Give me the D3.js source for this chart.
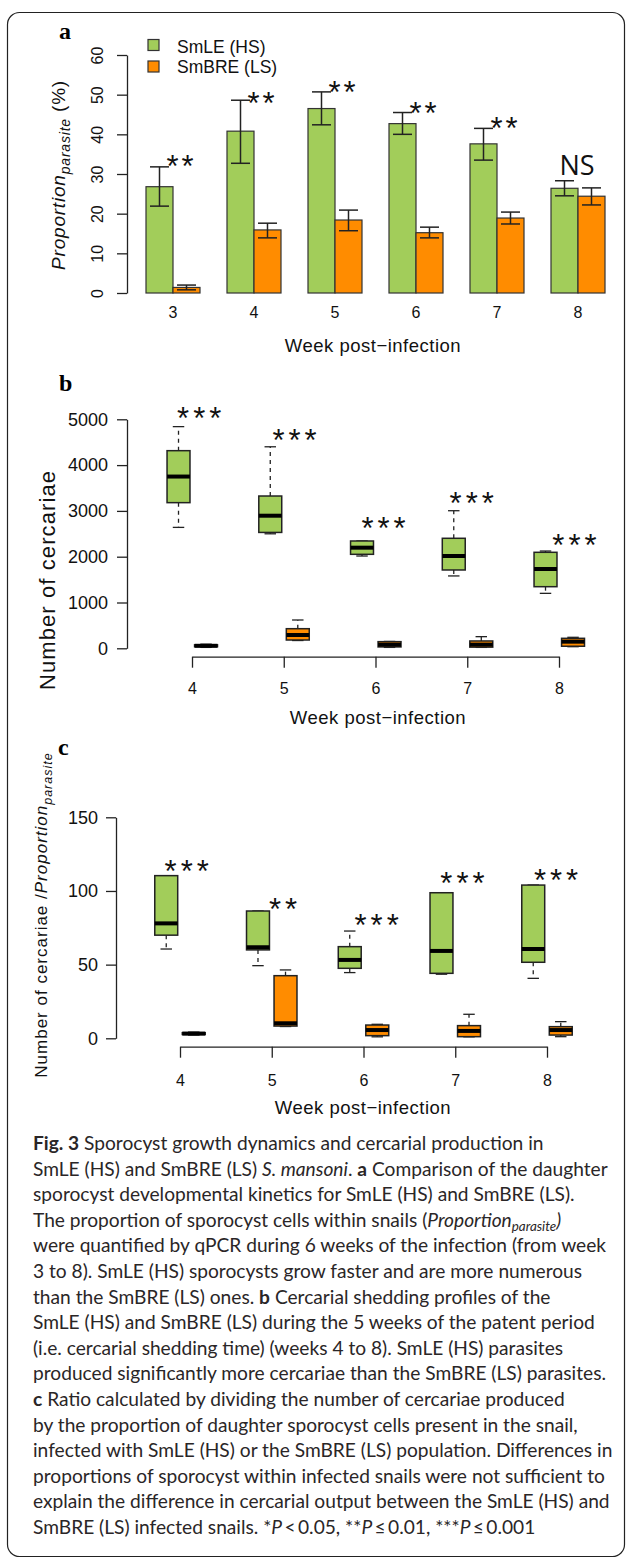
<!DOCTYPE html>
<html>
<head>
<meta charset="utf-8">
<script src="https://cdn.jsdelivr.net/npm/d3@7"></script>
<style>
  body { margin: 0; background: #fff; overflow: hidden; }
  svg { display: block; font-family: "Liberation Sans", Arial, Helvetica, sans-serif; }
</style>
</head>
<body>
<div id="chart"></div>
<script>
////////////////////////////////////////////////////////////////////
////////////////////////////  Data  ////////////////////////////////
const seriesNames = ["SmLE (HS)", "SmBRE (LS)"];

// panel a : proportion of parasite (%), mean and error bar ends
const weeksA = [3, 4, 5, 6, 7, 8];
const smleMean = [26.8, 40.8, 46.5, 42.7, 37.6, 26.4];
const smleLo = [21.9, 32.7, 42.4, 40.0, 33.5, 24.5];
const smleHi = [31.8, 48.6, 50.7, 45.5, 41.5, 28.3];
const smbreMean = [1.4, 15.9, 18.4, 15.2, 18.9, 24.4];
const smbreLo = [0.8, 13.9, 15.7, 13.9, 17.4, 22.2];
const smbreHi = [2.0, 17.6, 20.9, 16.6, 20.4, 26.5];
const sigA = ["**", "**", "**", "**", "**", "NS"];
const sigAy = [33.5, 49.4, 52.1, 46.9, 43.1, 32.2];

// panel b : number of cercariae, [min, q1, median, q3, max]
const weeksB = [4, 5, 6, 7, 8];
const smleB = [
  [2640, 3180, 3750, 4315, 4840],
  [2500, 2530, 2895, 3325, 4400],
  [2015, 2052, 2197, 2343, 2343],
  [1580, 1710, 2015, 2402, 3004],
  [1200, 1345, 1731, 2096, 2124]
];
const smbreB = [
  [20, 35, 55, 75, 90],
  [170, 181, 290, 428, 618],
  [20, 30, 80, 145, 150],
  [20, 25, 80, 160, 254],
  [35, 45, 145, 218, 240]
];
const sigB = ["***", "***", "***", "***", "***"];
const sigBx = [4.10, 5.14, 6.11, 7.07, 8.19];
const sigBy = [5166, 4679, 2764, 3303, 2386];

// panel c : cercariae / proportion parasite
const weeksC = [4, 5, 6, 7, 8];
const smleC = [
  [60.6, 70, 78, 110.4, 110.4],
  [49.3, 60, 61.8, 86.4, 86.4],
  [44.6, 47.5, 53.2, 62.2, 72.8],
  [43.5, 44.1, 59.3, 98.8, 98.8],
  [40.7, 51.6, 60.6, 104, 104]
];
const smbreC = [
  [2.2, 2.6, 3.2, 3.8, 4.2],
  [8, 8.3, 10.2, 42.5, 46.4],
  [1, 1.8, 5.6, 9, 9.5],
  [1, 1.1, 5, 8.6, 16.3],
  [1.1, 2.2, 5.6, 7.9, 11.3]
];
const sigC = ["***", "**", "***", "***", "***"];
const sigCx = [4.095, 5.145, 6.165, 7.10, 8.12];
const sigCy = [117.6, 91.6, 80.8, 109.7, 111.3];

// caption lines : [text, style] ("" normal, b bold, i italic, s subscript)
const caption = [
  [["Fig. 3", "b"], ["  Sporocyst growth dynamics and cercarial production in", ""]],
  [["SmLE (HS) and SmBRE (LS) ", ""], ["S. mansoni", "i"], [". ", ""], ["a", "b"], [" Comparison of the daughter", ""]],
  [["sporocyst developmental kinetics for SmLE (HS) and SmBRE (LS).", ""]],
  [["The proportion of sporocyst cells within snails (", ""], ["Proportion", "i"], ["parasite", "s"], [")", "i"]],
  [["were quantified by qPCR during 6 weeks of the infection (from week", ""]],
  [["3 to 8). SmLE (HS) sporocysts grow faster and are more numerous", ""]],
  [["than the SmBRE (LS) ones. ", ""], ["b", "b"], [" Cercarial shedding profiles of the", ""]],
  [["SmLE (HS) and SmBRE (LS) during the 5 weeks of the patent period", ""]],
  [["(i.e. cercarial shedding time) (weeks 4 to 8). SmLE (HS) parasites", ""]],
  [["produced significantly more cercariae than the SmBRE (LS) parasites.", ""]],
  [["c", "b"], [" Ratio calculated by dividing the number of cercariae produced", ""]],
  [["by the proportion of daughter sporocyst cells present in the snail,", ""]],
  [["infected with SmLE (HS) or the SmBRE (LS) population. Differences in", ""]],
  [["proportions of sporocyst within infected snails were not sufficient to", ""]],
  [["explain the difference in cercarial output between the SmLE (HS) and", ""]],
  [["SmBRE (LS) infected snails. *", ""], ["P", "i"], ["\u2009<\u20090.05, **", ""], ["P", "i"], ["\u2009\u2264\u20090.01, ***", ""], ["P", "i"], ["\u2009\u2264\u20090.001", ""]]
];

////////////////////////////////////////////////////////////////////
////////////////////////////  Init  ////////////////////////////////
const W = 627, H = 1558;
const GREEN = "#a2cd5a", ORANGE = "#ff8c00", INK = "#222";
const FONT = '"Liberation Sans", Arial, Helvetica, sans-serif';

const svg = d3.select("#chart").append("svg").attr("width", W).attr("height", H);
svg.append("rect").attr("width", W).attr("height", H).attr("fill", "#fff");
// rounded frame
svg.append("rect")
  .attr("x", 7.5).attr("y", 12.5).attr("width", 617).attr("height", 1544)
  .attr("rx", 12).attr("fill", "none").attr("stroke", INK).attr("stroke-width", 1.2);

function styleAxis(g, size) {
  g.attr("font-family", FONT).attr("font-size", size);
  g.select(".domain").attr("stroke", INK).attr("stroke-width", 1.3);
  g.selectAll(".tick line").attr("stroke", INK).attr("stroke-width", 1.3);
  g.selectAll(".tick text").attr("fill", "#111");
}

function panelLabel(txt, x, y) {
  svg.append("text").attr("x", x).attr("y", y)
    .attr("font-family", '"Liberation Serif", "Times New Roman", serif')
    .attr("font-weight", "bold").attr("font-size", 24).text(txt);
}

function xTitle(cx, y) {
  svg.append("text").attr("x", cx).attr("y", y).attr("text-anchor", "middle")
    .attr("font-size", 18.5).attr("letter-spacing", 0.5).attr("fill", "#111")
    .text("Week post\u2212infection");
}

function stars(g, txt, x, y, ls) {
  g.append("text").attr("x", x).attr("y", y + 17)
    .attr("text-anchor", "middle").attr("font-size", 31)
    .attr("letter-spacing", ls).attr("fill", "#111").text(txt);
}

////////////////////////////////////////////////////////////////////
////////////////////////////  Panel a  /////////////////////////////
panelLabel("a", 59, 39);

const xa = d3.scaleBand().domain(weeksA).range([146, 605]).paddingInner(1 / 3).paddingOuter(0);
const xa2 = d3.scaleBand().domain(seriesNames).range([0, xa.bandwidth()]);
const ya = d3.scaleLinear().domain([0, 60]).range([293, 55]);

const rowsA = weeksA.map((w, i) => ({
  week: w,
  vals: [
    { s: seriesNames[0], m: smleMean[i], lo: smleLo[i], hi: smleHi[i], c: GREEN },
    { s: seriesNames[1], m: smbreMean[i], lo: smbreLo[i], hi: smbreHi[i], c: ORANGE }
  ]
}));

const gBars = svg.append("g");
const grp = gBars.selectAll("g").data(rowsA).join("g")
  .attr("transform", (d) => `translate(${xa(d.week)},0)`);
grp.selectAll("rect").data((d) => d.vals).join("rect")
  .attr("x", (d) => xa2(d.s)).attr("width", xa2.bandwidth())
  .attr("y", (d) => ya(d.m)).attr("height", (d) => ya(0) - ya(d.m))
  .attr("fill", (d) => d.c).attr("stroke", "#333").attr("stroke-width", 1.2);
// error bars
const eb = grp.selectAll("g.eb").data((d) => d.vals).join("g").attr("class", "eb")
  .attr("stroke", INK).attr("stroke-width", 1.5);
const cx = (d) => xa2(d.s) + xa2.bandwidth() / 2;
eb.append("line").attr("x1", cx).attr("x2", cx).attr("y1", (d) => ya(d.lo)).attr("y2", (d) => ya(d.hi));
eb.append("line").attr("x1", (d) => cx(d) - 9.5).attr("x2", (d) => cx(d) + 9.5)
  .attr("y1", (d) => ya(d.hi)).attr("y2", (d) => ya(d.hi));
eb.append("line").attr("x1", (d) => cx(d) - 9.5).attr("x2", (d) => cx(d) + 9.5)
  .attr("y1", (d) => ya(d.lo)).attr("y2", (d) => ya(d.lo));

// significance
weeksA.forEach((w, i) => {
  const gx = xa(w) + xa.bandwidth() / 2;
  if (sigA[i] === "NS") {
    svg.append("text").attr("x", gx - 1).attr("y", ya(sigAy[i]) + 9.5)
      .attr("text-anchor", "middle").attr("font-family", '"Open Sans", sans-serif')
      .attr("font-size", 27).attr("fill", "#111").text("NS");
  } else {
    stars(svg, sigA[i], gx + 8.5, ya(sigAy[i]), 3);
  }
});

// axes
const gya = svg.append("g").attr("transform", "translate(127,0)")
  .call(d3.axisLeft(ya).tickValues(d3.range(0, 61, 10)).tickSize(10).tickSizeOuter(0));
styleAxis(gya, 16);
gya.selectAll(".tick text").attr("x", 0).attr("dy", "0.36em")
  .attr("text-anchor", "middle").attr("transform", "translate(-30,0) rotate(-90)");

const gxa = svg.append("g").attr("transform", "translate(0,293)")
  .call(d3.axisBottom(xa).tickSize(0));
styleAxis(gxa, 16);
gxa.select(".domain").remove();
gxa.selectAll(".tick text").attr("y", 25).attr("dy", 0);

xTitle(373, 352);

// y title
const yta = svg.append("text").attr("transform", "translate(65,175) rotate(-90)")
  .attr("text-anchor", "middle").attr("font-size", 19).attr("letter-spacing", 0.8).attr("fill", "#111");
yta.append("tspan").attr("font-style", "italic").text("Proportion");
yta.append("tspan").attr("font-style", "italic").attr("font-size", 14).attr("dy", 5).text("parasite");
yta.append("tspan").attr("dy", -5).text(" (%)");

// legend
seriesNames.forEach((s, i) => {
  svg.append("rect").attr("x", 148).attr("y", 39.5 + i * 21.5).attr("width", 11).attr("height", 11)
    .attr("fill", i === 0 ? GREEN : ORANGE).attr("stroke", "#333").attr("stroke-width", 1.2);
  svg.append("text").attr("x", 177).attr("y", 52.5 + i * 20.5).attr("font-size", 17.5)
    .attr("fill", "#111").text(s);
});

////////////////////////////////////////////////////////////////////
////////////////////////////  Boxplots  ////////////////////////////
function drawBoxes(x, y, weeks, stats, offset, fill) {
  const hw = x(4.125) - x(4);
  const g = svg.append("g");
  weeks.forEach((w, i) => {
    const [mn, q1, md, q3, mx] = stats[i];
    const c = x(w + offset);
    // whiskers
    g.append("line").attr("x1", c).attr("x2", c).attr("y1", y(q3)).attr("y2", y(mx))
      .attr("stroke", INK).attr("stroke-width", 1.3).attr("stroke-dasharray", "4,4");
    g.append("line").attr("x1", c).attr("x2", c).attr("y1", y(q1)).attr("y2", y(mn))
      .attr("stroke", INK).attr("stroke-width", 1.3).attr("stroke-dasharray", "4,4");
    [mn, mx].forEach((v) => {
      g.append("line").attr("x1", c - hw / 2).attr("x2", c + hw / 2).attr("y1", y(v)).attr("y2", y(v))
        .attr("stroke", INK).attr("stroke-width", 1.3);
    });
    g.append("rect").attr("x", c - hw).attr("width", 2 * hw)
      .attr("y", y(q3)).attr("height", Math.max(0.5, y(q1) - y(q3)))
      .attr("fill", fill).attr("stroke", INK).attr("stroke-width", 1.5);
    g.append("line").attr("x1", c - hw).attr("x2", c + hw).attr("y1", y(md)).attr("y2", y(md))
      .attr("stroke", "#000").attr("stroke-width", 4);
  });
}

////////////////////////////////////////////////////////////////////
////////////////////////////  Panel b  /////////////////////////////
panelLabel("b", 59, 391);

const xb = d3.scaleLinear().domain([4, 8]).range([192, 559]);
const yb = d3.scaleLinear().domain([0, 5000]).range([648.3, 419.3]);

drawBoxes(xb, yb, weeksB, smleB, -0.147, GREEN);
drawBoxes(xb, yb, weeksB, smbreB, 0.153, ORANGE);
weeksB.forEach((w, i) => stars(svg, sigB[i], xb(sigBx[i]), yb(sigBy[i]), 4));

const gyb = svg.append("g").attr("transform", "translate(127,0)")
  .call(d3.axisLeft(yb).tickValues(d3.range(0, 5001, 1000)).tickFormat(d3.format("d"))
    .tickSize(10).tickSizeOuter(0).tickPadding(9));
styleAxis(gyb, 18);
const gxb = svg.append("g").attr("transform", "translate(0,656.7)")
  .call(d3.axisBottom(xb).tickValues(weeksB).tickFormat(d3.format("d")).tickSize(11).tickSizeOuter(0));
styleAxis(gxb, 16);
gxb.selectAll(".tick text").attr("y", 37.5).attr("dy", 0);

xTitle(378, 724);
svg.append("text").attr("transform", "translate(55,580) rotate(-90)")
  .attr("text-anchor", "middle").attr("font-size", 22).attr("letter-spacing", 1.1)
  .attr("fill", "#111").text("Number of cercariae");

////////////////////////////////////////////////////////////////////
////////////////////////////  Panel c  /////////////////////////////
panelLabel("c", 58, 755);

const xc = d3.scaleLinear().domain([4, 8]).range([180, 547]);
const yc = d3.scaleLinear().domain([0, 150]).range([1038.3, 817.3]);

drawBoxes(xc, yc, weeksC, smleC, -0.15, GREEN);
drawBoxes(xc, yc, weeksC, smbreC, 0.15, ORANGE);
weeksC.forEach((w, i) => stars(svg, sigC[i], xc(sigCx[i]), yc(sigCy[i]), 4));

const gyc = svg.append("g").attr("transform", "translate(116,0)")
  .call(d3.axisLeft(yc).tickValues([0, 50, 100, 150]).tickSize(10).tickSizeOuter(0).tickPadding(8));
styleAxis(gyc, 18);
const gxc = svg.append("g").attr("transform", "translate(0,1046.7)")
  .call(d3.axisBottom(xc).tickValues(weeksC).tickFormat(d3.format("d")).tickSize(11).tickSizeOuter(0));
styleAxis(gxc, 16);
gxc.selectAll(".tick text").attr("y", 39.3).attr("dy", 0);

xTitle(363, 1114);
const ytc = svg.append("text").attr("transform", "translate(46.5,915) rotate(-90)")
  .attr("text-anchor", "middle").attr("font-size", 17).attr("letter-spacing", 1)
  .attr("fill", "#111");
ytc.append("tspan").text("Number of cercariae /");
ytc.append("tspan").attr("font-style", "italic").text("Proportion");
ytc.append("tspan").attr("font-style", "italic").attr("font-size", 12.5).attr("dy", 5).text("parasite");

////////////////////////////////////////////////////////////////////
////////////////////////////  Caption  /////////////////////////////
const CAP_TOP = 1150, CAP_STEP = 25.6;
const capG = svg.append("g").attr("font-family", "Lato, sans-serif").attr("fill", "#2a2627");
let capSize = 18;
const capLines = capG.selectAll("text").data(caption).join("text")
  .attr("transform", (d, i) => `translate(33,${CAP_TOP + i * CAP_STEP})`)
  .attr("font-size", capSize);
capLines.each(function (segs) {
  const t = d3.select(this);
  let shifted = false;
  segs.forEach(([txt, st]) => {
    const sp = t.append("tspan").text(txt);
    if (st === "b") sp.attr("font-weight", "bold");
    if (st === "i" || st === "s") sp.attr("font-style", "italic");
    if (st === "s") { sp.attr("font-size", "0.7em").attr("dy", 4); shifted = true; }
    else if (shifted) { sp.attr("dy", -4); shifted = false; }
  });
});
// fit the caption width to the reference line length
const refW = capLines.filter((d, i) => i === 1).node().getComputedTextLength();
capSize = Math.min(20, capSize * 575 / refW);
capLines.attr("font-size", capSize);
</script>
</body>
</html>
